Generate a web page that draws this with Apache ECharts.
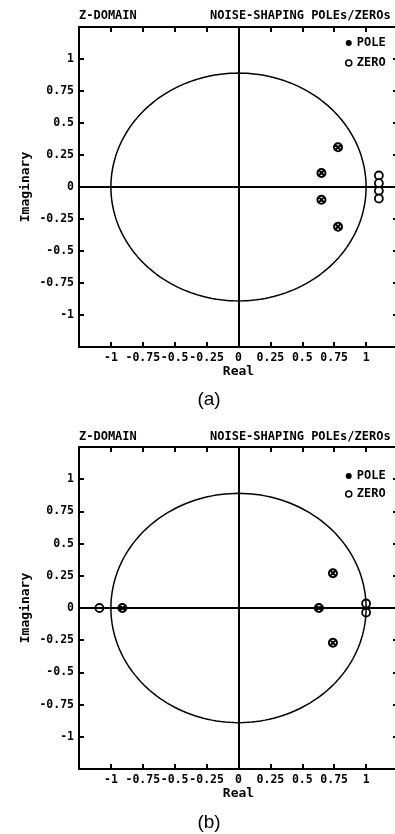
<!DOCTYPE html>
<html>
<head>
<meta charset="utf-8">
<script src="https://cdn.jsdelivr.net/npm/echarts@6/dist/echarts.min.js"></script>
<style>
  html, body { margin: 0; padding: 0; background: #fff; }
  #chart { width: 395px; height: 834px; }
</style>
</head>
<body>
<div id="chart"></div>
<script>
// Pole / zero locations (real, imaginary) for the two noise-shaping filters
const polesA = [[0.78, 0.31], [0.65, 0.11], [0.65, -0.10], [0.78, -0.31]];
const zerosA = [[1.10, 0.09], [1.10, 0.03], [1.10, -0.03], [1.10, -0.09]];
const polesB = [[0.74, 0.27], [0.74, -0.27], [0.63, 0.0], [-0.91, 0.0]];
const zerosB = [[1.00, 0.035], [1.00, -0.035], [-1.09, 0.0]];

// Tick values shown with labels on both axes
const tickLabels = [-1, -0.75, -0.5, -0.25, 0, 0.25, 0.5, 0.75, 1];
const axisMin = -1.25;
const axisMax = 1.25;
const axisStep = 0.25;

// Reference circle; the plotter draws it slightly squashed vertically
const circleYScale = 0.89;
const circleSteps = 180;
const unitCircle = [];
for (let i = 0; i <= circleSteps; i++) {
  const t = (i / circleSteps) * 2 * Math.PI;
  unitCircle.push([Math.cos(t), circleYScale * Math.sin(t)]);
}

const MONO = 'DejaVu Sans Mono';
const BLACK = '#000';

function labelFmt(v) {
  const hit = tickLabels.some(t => Math.abs(t - v) < 1e-6);
  return hit ? String(+v.toFixed(2)) : '';
}

function axis(gridIndex, position, withLabels, name, nameGap) {
  const a = {
    type: 'value',
    gridIndex: gridIndex,
    position: position,
    min: axisMin,
    max: axisMax,
    interval: axisStep,
    splitLine: { show: false },
    axisLine: { show: true, onZero: false, lineStyle: { color: BLACK, width: 2 } },
    axisTick: { show: true, inside: true, length: 5, lineStyle: { color: BLACK, width: 2 } },
    axisLabel: {
      show: withLabels,
      formatter: labelFmt,
      fontFamily: MONO,
      fontWeight: 'bold',
      fontSize: 11.5,
      color: BLACK,
      margin: 5,
      showMinLabel: true,
      showMaxLabel: true,
      hideOverlap: false
    }
  };
  if (name) {
    a.name = name;
    a.nameLocation = 'middle';
    a.nameGap = nameGap;
    a.nameMoveOverlap = false;
    a.nameTextStyle = { fontFamily: MONO, fontWeight: 'bold', fontSize: 13, color: BLACK };
  }
  return a;
}

function plotSeries(gi, poles, zeros) {
  const xi = gi * 2, yi = gi * 2;
  return [
    {
      type: 'line',
      name: 'circle',
      xAxisIndex: xi,
      yAxisIndex: yi,
      data: unitCircle,
      showSymbol: false,
      symbol: 'none',
      silent: true,
      lineStyle: { color: BLACK, width: 1.5 },
      markLine: {
        silent: true,
        symbol: 'none',
        label: { show: false },
        lineStyle: { color: BLACK, width: 2, type: 'solid' },
        data: [{ xAxis: 0 }, { yAxis: 0 }]
      }
    },
    {
      type: 'scatter',
      name: 'ZERO',
      xAxisIndex: xi,
      yAxisIndex: yi,
      data: zeros,
      symbol: 'circle',
      symbolSize: 8,
      itemStyle: { color: '#fff', borderColor: BLACK, borderWidth: 1.8, opacity: 1 }
    },
    {
      type: 'scatter',
      name: 'POLE',
      xAxisIndex: xi,
      yAxisIndex: yi,
      data: poles,
      symbol: 'path://M10,0A10,10,0,1,1,-10,0A10,10,0,1,1,10,0ZM-6,-6L6,6M6,-6L-6,6',
      symbolSize: 8,
      itemStyle: { color: 'rgba(0,0,0,0)', borderColor: BLACK, borderWidth: 2, opacity: 1 }
    }
  ];
}

function legendAt(top, gap) {
  return {
    orient: 'vertical',
    left: 340,
    top: top,
    itemWidth: 6,
    itemHeight: 6,
    itemGap: gap,
    selectedMode: false,
    textStyle: { fontFamily: MONO, fontWeight: 'bold', fontSize: 12, color: BLACK },
    data: [
      { name: 'POLE', icon: 'circle', itemStyle: { color: BLACK, borderWidth: 0 } },
      { name: 'ZERO', icon: 'circle', itemStyle: { color: '#fff', borderColor: BLACK, borderWidth: 1.5 } }
    ]
  };
}

function headerText(y) {
  return [
    { type: 'text', x: 79, y: y, style: { text: 'Z-DOMAIN', font: 'bold 12px "' + MONO + '"', fill: BLACK, verticalAlign: 'middle' } },
    { type: 'text', x: 210, y: y, style: { text: 'NOISE-SHAPING POLEs/ZEROs', font: 'bold 12px "' + MONO + '"', fill: BLACK, verticalAlign: 'middle' } }
  ];
}

function caption(text, y) {
  return { type: 'text', x: 209, y: y, style: { text: text, font: '19px "Liberation Sans"', fill: BLACK, align: 'center', verticalAlign: 'middle' } };
}

const option = {
  animation: false,
  backgroundColor: '#fff',
  graphic: [].concat(headerText(16), headerText(437), [caption('(a)', 400), caption('(b)', 823)]),
  legend: [legendAt(32, 8), legendAt(465, 6)],
  grid: [
    { left: 79, top: 27, width: 319, height: 320, outerBoundsMode: 'none', containLabel: false },
    { left: 79, top: 447, width: 319, height: 322, outerBoundsMode: 'none', containLabel: false }
  ],
  xAxis: [
    axis(0, 'bottom', true, 'Real', 18),
    axis(0, 'top', false),
    axis(1, 'bottom', true, 'Real', 18),
    axis(1, 'top', false)
  ],
  yAxis: [
    axis(0, 'left', true, 'Imaginary', 47),
    axis(0, 'right', false),
    axis(1, 'left', true, 'Imaginary', 47),
    axis(1, 'right', false)
  ],
  series: [].concat(plotSeries(0, polesA, zerosA), plotSeries(1, polesB, zerosB))
};

const chart = echarts.init(document.getElementById('chart'), null, { renderer: 'canvas' });
chart.setOption(option);
</script>
</body>
</html>
